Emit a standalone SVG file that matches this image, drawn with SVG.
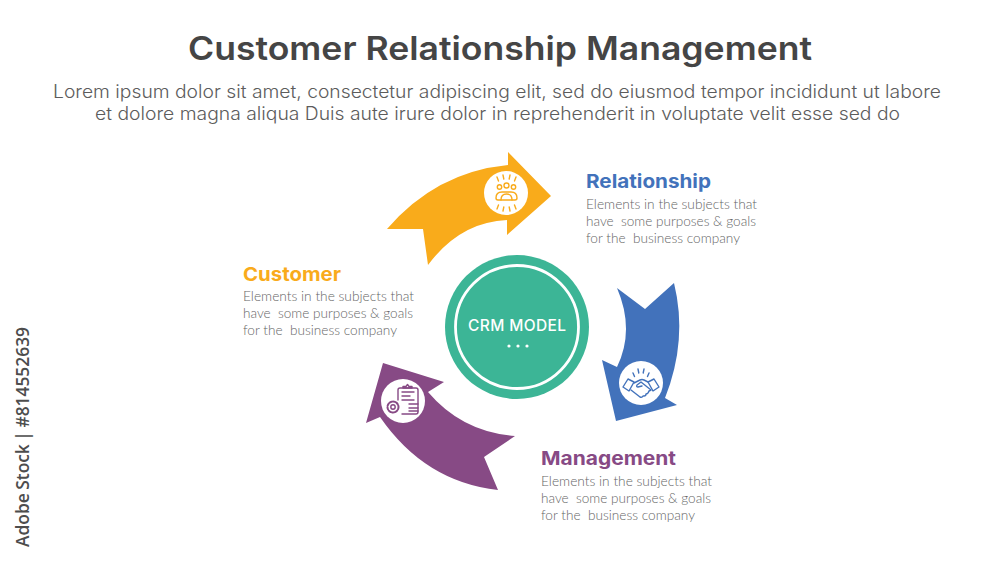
<svg xmlns="http://www.w3.org/2000/svg" width="1000" height="563" viewBox="0 0 1000 563">
<style>
text{font-family:"Inter","Liberation Sans",sans-serif}
.title{font-size:33px;font-weight:600;fill:#454545}
.sub{font-size:18px;font-weight:300;fill:#5c5c5c}
.head{font-size:19px;font-weight:700}
.desc{font-family:"Lato","Open Sans",sans-serif;font-size:14px;font-weight:300;fill:#666;white-space:pre}
.side{font-family:"Open Sans",sans-serif;font-size:18px;font-weight:600;fill:#4d4d4d;word-spacing:-1px}
.icon{fill:none;stroke-width:1.4;stroke-linecap:round;stroke-linejoin:round}
.badge{fill:#fff}
</style>
<rect width="1000" height="563" fill="#fff"/>
<g id="header">
<text class="title" x="188" y="60" textLength="624" lengthAdjust="spacingAndGlyphs">Customer Relationship Management</text>
<text class="sub" x="53" y="98" textLength="888" lengthAdjust="spacingAndGlyphs">Lorem ipsum dolor sit amet, consectetur adipiscing elit, sed do eiusmod tempor incididunt ut labore</text>
<text class="sub" x="95" y="120" textLength="805" lengthAdjust="spacingAndGlyphs">et dolore magna aliqua Duis aute irure dolor in reprehenderit in voluptate velit esse sed do</text>
</g>
<g id="connectors">
<path id="arrow-yellow" fill="#f9ab1b" d="M387 229Q436 172 508 165L508 152L551 196L507 235L507 220Q460 222 428 265L423 229Z"/>
<path id="arrow-blue" fill="#4272bb" d="M674 283Q688 340 665 398L677 405L616 421L602 360L617 367Q635 330 617 288L645 309Z"/>
<path id="arrow-purple" fill="#874a85" d="M498 490Q425 482 380 417L366 423L383 363L444 382L428 392Q462 432 515 436L484 457Z"/>
</g>
<g id="node-center">
<circle cx="517" cy="327" r="72" fill="#3cb596"/>
<circle cx="517" cy="327" r="61.5" fill="none" stroke="#fff" stroke-width="2.8"/>
<text x="517" y="331" text-anchor="middle" font-size="15.5" font-weight="500" fill="#fff" textLength="98" lengthAdjust="spacing">CRM MODEL</text>
<circle cx="509" cy="346" r="1.6" fill="#fff"/><circle cx="518" cy="346" r="1.6" fill="#fff"/><circle cx="527" cy="346" r="1.6" fill="#fff"/>
</g>
<g id="node-customer">
<circle class="badge" cx="506" cy="193" r="22"/>
<g class="icon" stroke="#f9ab1b">
<circle cx="499.500" cy="187" r="2.200"/><circle cx="506.500" cy="185.500" r="2.500"/><circle cx="513.500" cy="187" r="2.200"/>
<path d="M496 198q0-6 6-6h9q6 0 6 6q0 2-2 2h-17q-2 0-2-2z"/><path d="M501 200q0-6 5.500-6t5.500 6"/>
<path d="M497 177l1.500 4M503 175l.8 4M510 175l-.8 4M516 177l-1.500 4M497 209l1.500-4M503 211l.8-4M510 211l-.8-4M516 209l-1.500-4"/>
</g>
<text class="head" fill="#f9ab1b" x="243" y="281" textLength="98" lengthAdjust="spacingAndGlyphs">Customer</text>
<text class="desc" x="243" y="301" textLength="171" lengthAdjust="spacingAndGlyphs">Elements in the subjects that</text>
<text class="desc" x="243" y="318" textLength="170" lengthAdjust="spacingAndGlyphs">have  some purposes &amp; goals</text>
<text class="desc" x="243" y="335" textLength="154" lengthAdjust="spacingAndGlyphs">for the  business company</text>
</g>
<g id="node-relationship">
<circle class="badge" cx="641" cy="383" r="22"/>
<g class="icon" stroke="#4272bb">
<path d="M623 387l5-8 6 3-5 9zM659 387l-5-8-6 3 5 9z"/>
<path d="M634 383l6-3q2-1 4 0l4 2M651 390l-10-8-4 3q-1 2 1 2l4-1M631 390l9 7q2 1 3-1l1 0q2 0 2-2q2 0 3-3l2-1"/>
<path d="M633 373l1.500 3.500M638 369l.8 4M644 369l-.8 4M649 373l-1.500 3.500"/>
</g>
<text class="head" fill="#4272bb" x="586" y="188" textLength="125" lengthAdjust="spacingAndGlyphs">Relationship</text>
<text class="desc" x="586" y="209" textLength="171" lengthAdjust="spacingAndGlyphs">Elements in the subjects that</text>
<text class="desc" x="586" y="226" textLength="170" lengthAdjust="spacingAndGlyphs">have  some purposes &amp; goals</text>
<text class="desc" x="586" y="243" textLength="154" lengthAdjust="spacingAndGlyphs">for the  business company</text>
</g>
<g id="node-management">
<circle class="badge" cx="403" cy="401" r="22"/>
<g class="icon" stroke="#874a85">
<path d="M398 400v-10q0-2 2-2h16q2 0 2 2v22q0 2-2 2h-14"/>
<path d="M403 388v-1.500h3l1.500-2 1.500 2h3v1.500z"/>
<path d="M402 392h12M402 396h8M402 400h12M409 404h9M409 408h9M409 411h9"/>
<circle cx="393" cy="407" r="2.200"/>
<circle cx="393" cy="407" r="5.500" stroke-dasharray="2.200 1.400" stroke-width="2"/>
</g>
<text class="head" fill="#874a85" x="541" y="465" textLength="135" lengthAdjust="spacingAndGlyphs">Management</text>
<text class="desc" x="541" y="486" textLength="171" lengthAdjust="spacingAndGlyphs">Elements in the subjects that</text>
<text class="desc" x="541" y="503" textLength="170" lengthAdjust="spacingAndGlyphs">have  some purposes &amp; goals</text>
<text class="desc" x="541" y="520" textLength="154" lengthAdjust="spacingAndGlyphs">for the  business company</text>
</g>
<text class="side" transform="translate(29 547) rotate(-90)" textLength="220" lengthAdjust="spacingAndGlyphs">Adobe Stock | #814552639</text>
</svg>
